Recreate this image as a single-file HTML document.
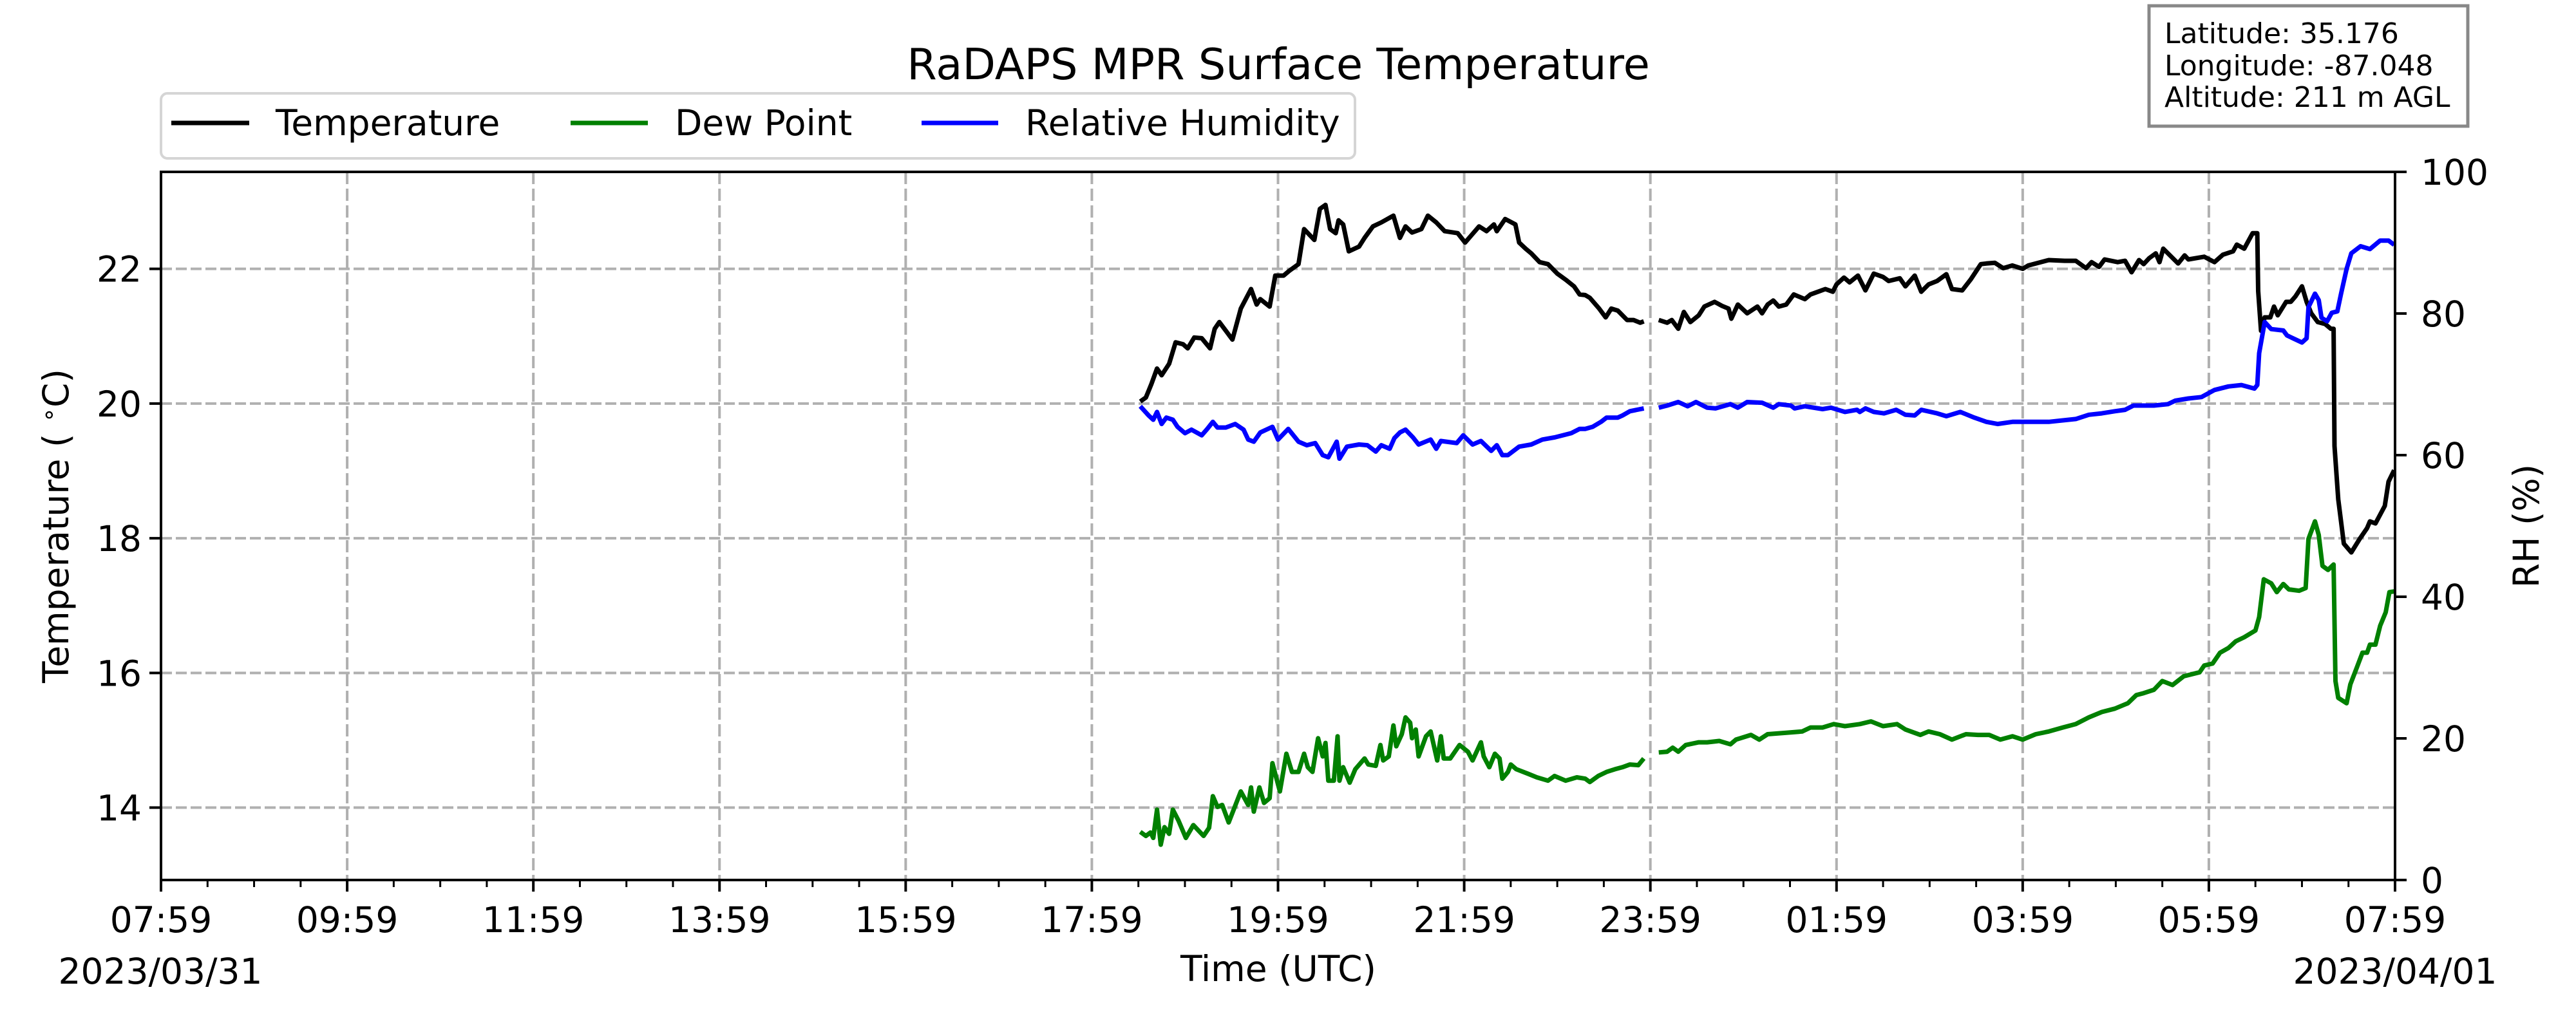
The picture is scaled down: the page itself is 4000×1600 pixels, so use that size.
<!DOCTYPE html>
<html><head><meta charset="utf-8"><style>
html,body{margin:0;padding:0;background:#fff}
svg{display:block;font-family:"DejaVu Sans","Liberation Sans",sans-serif}
</style></head><body>
<svg id="chart" xmlns="http://www.w3.org/2000/svg" width="4000" height="1600" viewBox="0 0 4000 1600">
<rect width="4000" height="1600" fill="#fff"/>
<g id="grid"></g>
<g id="series"></g>
<g id="axes"></g>
<text x="1985" y="123" font-size="67" text-anchor="middle">RaDAPS MPR Surface Temperature</text>
<g>
<rect x="250" y="145" width="1854" height="101" rx="10" fill="#fff" stroke="#d5d5d5" stroke-width="4"/>
<line x1="266" y1="191" x2="387" y2="191" stroke="#000" stroke-width="7"/>
<text x="428" y="210" font-size="55">Temperature</text>
<line x1="886" y1="191" x2="1006" y2="191" stroke="#008000" stroke-width="7"/>
<text x="1048" y="210" font-size="55">Dew Point</text>
<line x1="1431" y1="191" x2="1550" y2="191" stroke="#0000ff" stroke-width="7"/>
<text x="1592" y="210" font-size="55">Relative Humidity</text>
</g>
<g>
<rect x="3337" y="9" width="495" height="187" fill="#fff" stroke="#888" stroke-width="5"/>
<text x="3361" y="67" font-size="44">Latitude: 35.176</text>
<text x="3361" y="117" font-size="44">Longitude: -87.048</text>
<text x="3361" y="166" font-size="44">Altitude: 211 m AGL</text>
</g>
<text x="1985" y="1524" font-size="55" text-anchor="middle">Time (UTC)</text>
<text x="249" y="1528" font-size="55" text-anchor="middle">2023/03/31</text>
<text x="3719" y="1528" font-size="55" text-anchor="middle">2023/04/01</text>
<text transform="translate(106,817) rotate(-90)" font-size="55" text-anchor="middle">Temperature ( <tspan font-size="37" dy="-18">∘</tspan><tspan dy="18">C)</tspan></text>
<text transform="translate(3942,817) rotate(-90)" font-size="55" text-anchor="middle">RH (%)</text>
</svg>
<script>
const xTickLabels = ["07:59","09:59","11:59","13:59","15:59","17:59","19:59","21:59","23:59","01:59","03:59","05:59","07:59"];
const tTicks = [14,16,18,20,22];
const rhTicks = [0,20,40,60,80,100];

const tempTime = [10.52,10.58,10.64,10.70,10.75,10.83,10.90,10.98,11.03,11.10,11.18,11.27,11.32,11.37,11.51,11.60,11.71,11.77,11.81,11.91,11.97,12.06,12.12,12.22,12.28,12.39,12.45,12.51,12.56,12.62,12.65,12.70,12.76,12.87,12.93,13.02,13.11,13.24,13.31,13.37,13.44,13.54,13.61,13.70,13.79,13.93,14.01,14.16,14.24,14.32,14.35,14.44,14.55,14.59,14.66,14.72,14.81,14.90,15.00,15.09,15.18,15.24,15.30,15.35,15.45,15.52,15.58,15.65,15.75,15.82,15.89,15.93,16.0,16.09,16.18,16.23,16.30,16.36,16.43,16.52,16.58,16.69,16.77,16.84,16.87,16.94,17.04,17.15,17.20,17.26,17.32,17.38,17.46,17.54,17.66,17.72,17.82,17.88,17.96,18.00,18.08,18.14,18.23,18.31,18.40,18.50,18.56,18.68,18.74,18.84,18.91,18.99,19.08,19.18,19.24,19.35,19.44,19.55,19.61,19.70,19.79,19.89,20.0,20.06,20.28,20.45,20.57,20.68,20.74,20.82,20.88,21.02,21.10,21.17,21.25,21.30,21.36,21.43,21.47,21.51,21.67,21.74,21.78,21.95,22.06,22.15,22.26,22.30,22.38,22.47,22.52,22.53,22.56,22.60,22.66,22.70,22.74,22.83,22.88,22.93,23.00,23.05,23.10,23.17,23.25,23.31,23.34,23.35,23.39,23.45,23.53,23.62,23.70,23.73,23.79,23.89,23.93,23.99];
const tempVal = [20.03,20.09,20.29,20.52,20.42,20.59,20.91,20.88,20.82,20.98,20.97,20.82,21.11,21.21,20.95,21.41,21.70,21.47,21.55,21.44,21.90,21.90,21.97,22.07,22.59,22.43,22.89,22.95,22.59,22.53,22.72,22.66,22.26,22.33,22.46,22.63,22.69,22.79,22.46,22.63,22.54,22.59,22.79,22.69,22.56,22.53,22.39,22.63,22.56,22.66,22.56,22.74,22.66,22.39,22.30,22.23,22.10,22.07,21.93,21.84,21.74,21.62,21.61,21.57,21.41,21.28,21.41,21.38,21.24,21.24,21.20,21.22,null,21.24,21.20,21.24,21.11,21.36,21.21,21.31,21.44,21.51,21.45,21.41,21.26,21.47,21.34,21.44,21.34,21.47,21.53,21.44,21.47,21.62,21.55,21.62,21.67,21.70,21.66,21.77,21.87,21.80,21.90,21.68,21.93,21.88,21.82,21.86,21.74,21.90,21.66,21.77,21.82,21.92,21.70,21.68,21.84,22.07,22.08,22.09,22.01,22.05,22.00,22.05,22.13,22.12,22.12,22.01,22.10,22.03,22.14,22.10,22.12,21.95,22.13,22.07,22.16,22.23,22.10,22.30,22.08,22.20,22.14,22.18,22.10,22.21,22.26,22.36,22.30,22.53,22.53,21.67,21.08,21.28,21.28,21.44,21.31,21.51,21.51,21.59,21.74,21.51,21.34,21.21,21.18,21.11,21.11,19.37,18.58,17.92,17.79,17.99,18.15,18.25,18.22,18.48,18.84,19.01];

const dewTime = [10.52,10.58,10.63,10.66,10.70,10.74,10.78,10.83,10.87,10.93,11.01,11.09,11.20,11.26,11.30,11.35,11.40,11.47,11.60,11.68,11.71,11.74,11.80,11.85,11.91,11.94,12.02,12.09,12.15,12.22,12.28,12.32,12.37,12.43,12.48,12.51,12.54,12.60,12.64,12.66,12.70,12.77,12.83,12.93,12.97,13.05,13.10,13.13,13.19,13.24,13.27,13.33,13.37,13.42,13.44,13.48,13.51,13.59,13.64,13.71,13.75,13.78,13.85,13.95,14.04,14.09,14.18,14.21,14.27,14.33,14.38,14.41,14.47,14.50,14.56,14.69,14.78,14.90,14.97,15.09,15.21,15.30,15.35,15.44,15.53,15.62,15.70,15.78,15.87,15.93,16.0,16.09,16.18,16.24,16.30,16.38,16.52,16.61,16.74,16.86,16.92,17.08,17.17,17.26,17.45,17.63,17.72,17.85,17.97,18.09,18.25,18.37,18.50,18.65,18.74,18.90,18.99,19.11,19.24,19.39,19.52,19.64,19.76,19.89,20.0,20.14,20.28,20.43,20.57,20.71,20.85,20.99,21.13,21.22,21.30,21.41,21.50,21.61,21.73,21.90,21.95,22.04,22.12,22.21,22.29,22.38,22.50,22.54,22.59,22.67,22.73,22.80,22.86,22.97,23.04,23.07,23.14,23.18,23.22,23.28,23.34,23.36,23.39,23.48,23.52,23.59,23.65,23.70,23.73,23.79,23.84,23.90,23.94,23.99];
const dewVal = [13.64,13.58,13.63,13.55,13.97,13.45,13.71,13.61,13.97,13.81,13.55,13.74,13.58,13.70,14.17,14.01,14.04,13.78,14.24,14.04,14.30,13.94,14.30,14.07,14.14,14.66,14.24,14.80,14.53,14.53,14.80,14.60,14.53,15.03,14.76,14.96,14.40,14.40,15.06,14.40,14.60,14.37,14.57,14.73,14.64,14.62,14.93,14.70,14.76,15.22,14.91,15.09,15.34,15.26,15.03,15.16,14.76,15.06,15.13,14.70,15.06,14.73,14.73,14.93,14.83,14.70,14.97,14.76,14.60,14.80,14.73,14.43,14.53,14.64,14.57,14.50,14.45,14.40,14.47,14.40,14.45,14.43,14.38,14.47,14.53,14.57,14.60,14.64,14.63,14.73,null,14.82,14.83,14.89,14.83,14.93,14.97,14.97,14.99,14.94,15.01,15.08,15.01,15.09,15.11,15.13,15.19,15.19,15.24,15.21,15.24,15.28,15.21,15.24,15.16,15.08,15.13,15.09,15.01,15.09,15.08,15.08,15.01,15.06,15.01,15.09,15.13,15.19,15.24,15.34,15.42,15.47,15.55,15.67,15.70,15.75,15.88,15.82,15.95,16.01,16.11,16.14,16.30,16.37,16.47,16.53,16.63,16.83,17.39,17.33,17.20,17.32,17.24,17.22,17.26,17.99,18.25,18.05,17.59,17.53,17.61,15.88,15.63,15.55,15.83,16.08,16.30,16.30,16.42,16.42,16.70,16.90,17.20,17.21];

const rhTime = [10.52,10.61,10.66,10.70,10.75,10.80,10.87,10.92,11.00,11.07,11.18,11.24,11.30,11.35,11.44,11.54,11.63,11.68,11.74,11.81,11.94,12.0,12.11,12.22,12.31,12.40,12.48,12.54,12.63,12.66,12.74,12.87,12.96,13.05,13.11,13.20,13.25,13.31,13.37,13.45,13.51,13.64,13.70,13.75,13.92,13.99,14.09,14.18,14.29,14.35,14.41,14.47,14.59,14.72,14.84,14.97,15.15,15.24,15.30,15.38,15.47,15.53,15.65,15.70,15.78,15.93,16.0,16.09,16.18,16.30,16.40,16.49,16.61,16.70,16.86,16.94,17.04,17.20,17.32,17.38,17.51,17.55,17.66,17.85,17.94,18.09,18.22,18.25,18.31,18.40,18.51,18.64,18.74,18.84,18.91,19.08,19.18,19.33,19.48,19.61,19.73,19.89,20.0,20.28,20.57,20.71,20.85,20.99,21.10,21.19,21.41,21.56,21.64,21.78,21.92,22.06,22.21,22.35,22.49,22.52,22.54,22.60,22.67,22.80,22.84,23.00,23.05,23.07,23.14,23.18,23.21,23.27,23.32,23.38,23.42,23.48,23.53,23.63,23.73,23.84,23.93,23.99];
const rhVal = [66.9,65.6,65.0,66.1,64.4,65.3,65.0,64.0,63.1,63.6,62.8,63.7,64.7,63.9,63.9,64.4,63.6,62.2,61.9,63.2,64.0,62.2,63.7,61.9,61.4,61.7,60.0,59.7,61.9,59.5,61.2,61.5,61.4,60.5,61.4,60.9,62.4,63.2,63.6,62.5,61.5,62.2,60.9,62.0,61.7,62.8,61.5,62.0,60.6,61.4,60.0,60.0,61.2,61.5,62.2,62.5,63.1,63.7,63.7,64.0,64.7,65.3,65.3,65.6,66.2,66.6,null,66.7,67.0,67.5,66.9,67.5,66.7,66.6,67.2,66.7,67.5,67.4,66.7,67.2,67.0,66.6,66.9,66.5,66.7,66.1,66.4,66.1,66.6,66.1,65.9,66.4,65.7,65.6,66.4,65.9,65.5,66.1,65.3,64.7,64.4,64.7,64.7,64.7,65.1,65.7,65.9,66.2,66.4,67.0,67.0,67.2,67.7,68.0,68.2,69.2,69.7,69.9,69.4,69.9,74.4,78.8,77.8,77.6,76.9,75.9,76.5,80.9,82.8,81.9,79.4,78.9,80.1,80.3,82.8,86.3,88.5,89.5,89.1,90.3,90.3,89.7];

const NS = "http://www.w3.org/2000/svg";
const L = 250, R = 3719, T = 267, B = 1367;
const tMin = 12.925, tMax = 23.44;
function xs(h){ return L + h * (R - L) / 24; }
function yT(v){ return B - (v - tMin) * (B - T) / (tMax - tMin); }
function yRH(v){ return B - v * (B - T) / 100; }
function mk(tag, attrs, parent){
  const e = document.createElementNS(NS, tag);
  for (const k in attrs) e.setAttribute(k, attrs[k]);
  parent.appendChild(e);
  return e;
}
const grid = document.getElementById('grid');
const axes = document.getElementById('axes');
const series = document.getElementById('series');

for (let i = 0; i < xTickLabels.length; i++) {
  const x = xs(i * 2);
  if (i > 0 && i < xTickLabels.length - 1) {
    const g = mk('line', {x1:x, y1:T, x2:x, y2:B, stroke:'#b0b0b0', 'stroke-width':4, 'stroke-dasharray':'19 7'}, grid);
    
    
  }
  const tk = mk('line', {x1:x, y1:B, x2:x, y2:B + 18, stroke:'#000', 'stroke-width':4}, axes);
  
  
  const lb = mk('text', {x:x, y:1448, 'font-size':55, 'text-anchor':'middle'}, axes);
  lb.textContent = xTickLabels[i];
  
  
}
for (let m = 0.5; m < 24; m += 0.5) {
  if (Math.abs(m / 2 - Math.round(m / 2)) < 1e-6) continue;
  const x = xs(m);
  const mt = mk('line', {x1:x, y1:B, x2:x, y2:B + 11, stroke:'#000', 'stroke-width':3}, axes);
  
  
}
for (const v of tTicks) {
  const y = yT(v);
  const g = mk('line', {x1:L, y1:y, x2:R, y2:y, stroke:'#b0b0b0', 'stroke-width':4, 'stroke-dasharray':'17 6'}, grid);
  
  
  const tk = mk('line', {x1:L - 18, y1:y, x2:L, y2:y, stroke:'#000', 'stroke-width':4}, axes);
  
  
  const lb = mk('text', {x:L - 30, y:y + 20, 'font-size':55, 'text-anchor':'end'}, axes);
  lb.textContent = v;
  
  
}
for (const v of rhTicks) {
  const y = yRH(v);
  const tk = mk('line', {x1:R, y1:y, x2:R + 18, y2:y, stroke:'#000', 'stroke-width':4}, axes);
  
  
  const lb = mk('text', {x:R + 40, y:y + 20, 'font-size':55}, axes);
  lb.textContent = v;
  
  
}
const frame = mk('rect', {x:L, y:T, width:R - L, height:B - T, fill:'none', stroke:'#000', 'stroke-width':4}, axes);



function pathFor(times, vals, yf){
  let d = '', pen = false;
  for (let i = 0; i < times.length; i++) {
    if (vals[i] === null) { pen = false; continue; }
    d += (pen ? 'L' : 'M') + xs(times[i]).toFixed(1) + ' ' + yf(vals[i]).toFixed(1);
    pen = true;
  }
  return d;
}
const pT = mk('path', {d:pathFor(tempTime, tempVal, yT), fill:'none', stroke:'#000', 'stroke-width':7, 'stroke-linejoin':'round'}, series);


const pD = mk('path', {d:pathFor(dewTime, dewVal, yT), fill:'none', stroke:'#008000', 'stroke-width':7, 'stroke-linejoin':'round'}, series);


const pR = mk('path', {d:pathFor(rhTime, rhVal, yRH), fill:'none', stroke:'#0000ff', 'stroke-width':7, 'stroke-linejoin':'round'}, series);


</script>
</body></html>
